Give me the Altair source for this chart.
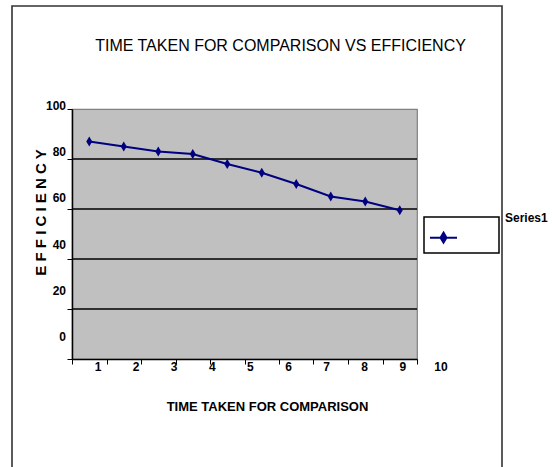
import altair as alt
import pandas as pd

# ---- data ----
categories = [1, 2, 3, 4, 5, 6, 7, 8, 9, 10]
efficiency = [87, 85, 83, 82, 78, 74.5, 70, 65, 63, 59.5]
series_name = ["Series1"] * 10
y_tick_values = [0, 20, 40, 60, 80, 100]
grid_values = [20, 40, 60, 80]
x_tick_labels = [1, 2, 3, 4, 5, 6, 7, 8, 9, 10]
x_boundaries = [0.5, 1.5, 2.5, 3.5, 4.5, 5.5, 6.5, 7.5, 8.5, 9.5, 10.5]

FONT = "Liberation Sans"
NAVY = "#000080"
DIAMOND = "M0,-1L0.6,0L0,1L-0.6,0Z"
LEGEND_SYMBOL = "M-1,0.75L1,0.75M0,0.38L0.22,0.75L0,1.12L-0.22,0.75Z"

df = pd.DataFrame({"t": categories, "eff": efficiency, "s": series_name})

xscale = alt.Scale(domain=[0.5, 10.5], nice=False, zero=False)
yscale = alt.Scale(domain=[0, 100], nice=False, zero=False)

x_axis = alt.Axis(values=x_boundaries, labels=False, ticks=True, tickSize=5,
                  tickColor="black", domainColor="black", domainWidth=1.5, grid=False,
                  title="TIME TAKEN FOR COMPARISON", titleX=195, titleY=47,
                  titleFont=FONT, titleFontSize=13, titleFontWeight="bold",
                  titleBaseline="middle", titleAlign="center", titleColor="black")
y_axis = alt.Axis(values=y_tick_values, labels=False, ticks=True, tickSize=5,
                  tickColor="black", domainColor="black", domainWidth=1.5, grid=False,
                  title="E F F I C I E N C Y", titleX=-32, titleY=103, titleAngle=270,
                  titleAlign="center", titleBaseline="middle", titleFont=FONT,
                  titleFontSize=15, titleFontWeight="bold", titleColor="black")

border = alt.Chart(pd.DataFrame({"k": [0]})).mark_rect(
    fill="transparent", stroke="#333333", strokeWidth=1.6
).encode(x=alt.value(-60), x2=alt.value(430), y=alt.value(-103), y2=alt.value(380))

grid = alt.Chart(pd.DataFrame({"g": grid_values})).mark_rule(
    color="black", strokeWidth=1.5
).encode(y=alt.Y("g:Q", scale=yscale, axis=None))

line = alt.Chart(df).mark_line(color=NAVY, strokeWidth=2).encode(
    x=alt.X("t:Q", scale=xscale, axis=x_axis),
    y=alt.Y("eff:Q", scale=yscale, axis=y_axis),
)

points = alt.Chart(df).mark_point(shape=DIAMOND, filled=True, size=100, opacity=1).encode(
    x=alt.X("t:Q", scale=xscale, axis=None),
    y=alt.Y("eff:Q", scale=yscale, axis=None),
    color=alt.Color("s:N", scale=alt.Scale(range=[NAVY]), legend=alt.Legend(
        orient="none", legendX=357, legendY=104, title="Series1", titleOrient="right",
        titleAnchor="start", titleFont=FONT, titleFontSize=12, titleFontWeight="bold",
        titleColor="black", titlePadding=44, labelExpr="''", labelOffset=0,
        symbolType=LEGEND_SYMBOL, symbolSize=729, symbolFillColor=NAVY,
        symbolStrokeColor=NAVY, symbolStrokeWidth=2, padding=0,
    )),
)

ylabels = alt.Chart(pd.DataFrame({"v": y_tick_values})).mark_text(
    align="right", baseline="middle", font=FONT, fontSize=12, fontWeight="bold", color="black"
).encode(
    y=alt.Y("v:Q", scale=alt.Scale(domain=[-9.5, 98.7], nice=False, zero=False), axis=None),
    x=alt.value(-6),
    text="v:Q",
)

xlabels = alt.Chart(pd.DataFrame({"c": x_tick_labels})).mark_text(
    align="center", baseline="middle", font=FONT, fontSize=12, fontWeight="bold", color="black"
).encode(
    x=alt.X("c:Q", scale=alt.Scale(domain=[0.318, 9.373], nice=False, zero=False), axis=None),
    y=alt.value(258),
    text="c:Q",
)

legend_box = alt.Chart(pd.DataFrame({"k": [0]})).mark_rect(
    fill="white", stroke="black", strokeWidth=1.5
).encode(x=alt.value(352), x2=alt.value(427), y=alt.value(108), y2=alt.value(144))

chart = alt.layer(border, grid, line, points, ylabels, xlabels, legend_box).resolve_scale(
    x="independent", y="independent"
).properties(
    width=345, height=250,
    title=alt.TitleParams(text="TIME TAKEN FOR COMPARISON VS EFFICIENCY", font=FONT,
                          fontSize=16, fontWeight="normal", anchor="middle", frame="group",
                          baseline="alphabetic", offset=0, dx=36, dy=62, color="black"),
    autosize=alt.AutoSizeParams(type="none"),
    padding={"left": 72, "top": 109, "right": 135, "bottom": 108},
    background="white",
).configure_view(fill="#C0C0C0", stroke="#808080", strokeWidth=1.2)

chart.save("out.html", embed_options={"renderer": "svg", "actions": False})
